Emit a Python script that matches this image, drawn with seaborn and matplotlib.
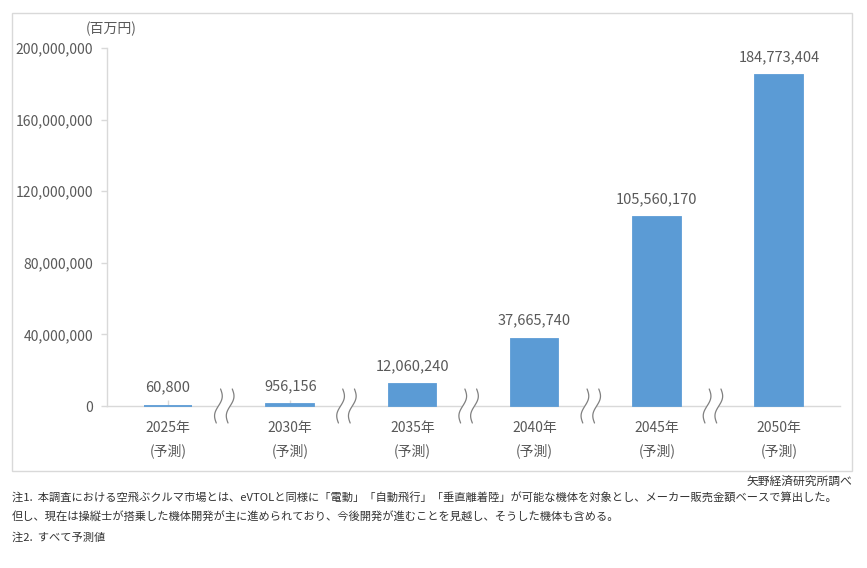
import numpy as np
import pandas as pd
import matplotlib
matplotlib.use("Agg")
import matplotlib.pyplot as plt
import matplotlib.transforms as mtransforms
from matplotlib.patches import Rectangle
import seaborn as sns

years = ["2025年", "2030年", "2035年", "2040年", "2045年", "2050年"]
sub_label = "(予測)"
values = [60800, 956156, 12060240, 37665740, 105560170, 184773404]
yticks = [0, 40000000, 80000000, 120000000, 160000000, 200000000]
unit_label = "(百万円)"
source_text = "矢野経済研究所調べ"
notes = [
    "注1.  本調査における空飛ぶクルマ市場とは、eVTOLと同様に「電動」「自動飛行」「垂直離着陸」が可能な機体を対象とし、メーカー販売金額ベースで算出した。",
    "但し、現在は操縦士が搭乗した機体開発が主に進められており、今後開発が進むことを見越し、そうした機体も含める。",
    "注2.  すべて予測値",
]

sns.set_theme(style="white")
plt.rcParams['font.family'] = ['Noto Sans CJK JP', 'DejaVu Sans']

TXT = "#595959"
BAR = "#5B9BD5"
GRID = "#D9D9D9"

fig = plt.figure(figsize=(8.67, 5.68), dpi=100)
# outer frame
fig.patches.append(Rectangle((12 / 867, 1 - 471 / 568), 840 / 867, 458 / 568,
                             transform=fig.transFigure, fill=False,
                             edgecolor=GRID, linewidth=1.0))

ax = fig.add_axes([107 / 867, 1 - 406 / 568, 733 / 867, 358 / 568])

df = pd.DataFrame({"cat": [f"{y}\n{sub_label}" for y in years], "val": values})
sns.barplot(data=df, x="cat", y="val", color=BAR, width=0.39, saturation=1,
            edgecolor=BAR, linewidth=1.3, ax=ax, zorder=3)

ax.set_ylim(0, 200000000)
ax.set_xlim(-0.5, len(years) - 0.5)
ax.set_yticks(yticks)
ax.set_yticklabels([f"{v:,}" for v in yticks])
ax.set_xlabel("")
ax.set_ylabel("")

for s in ["top", "right"]:
    ax.spines[s].set_visible(False)
for s in ["left", "bottom"]:
    ax.spines[s].set_color(GRID)
    ax.spines[s].set_linewidth(1.0)
    ax.spines[s].set_zorder(1)

ax.tick_params(axis="y", colors=GRID, labelcolor=TXT, labelsize=10,
               length=4, width=1, direction="out", left=True, pad=6)
ax.tick_params(axis="x", colors=GRID, labelcolor=TXT, labelsize=10,
               length=4, width=1, direction="in", bottom=True, pad=11)
for lab in ax.get_xticklabels():
    lab.set_linespacing(1.7)

for c in ax.containers:
    for p in c:
        p.set_clip_on(False)
    ax.bar_label(c, labels=[f"{v:,}" for v in values], padding=8,
                 color=TXT, fontsize=10.5)

# wavy break marks between categories
trans = mtransforms.blended_transform_factory(ax.transData, ax.transAxes)
t = np.linspace(0, 1, 80)
yy = 0.0475 - t * 0.095
for i in range(len(years) - 1):
    xc = i + 0.5 - 0.04
    base = xc + 0.035 * (0.5 - t) + 0.022 * np.sin(t * 2 * np.pi)
    xl = base - 0.048
    xr = base + 0.048
    ax.fill(np.concatenate([xl, xr[::-1]]), np.concatenate([yy, yy[::-1]]),
            transform=trans, color="white", lw=0, clip_on=False, zorder=4)
    for xx in (xl, xr):
        ax.plot(xx, yy, transform=trans, color="#808080", lw=0.9,
                clip_on=False, zorder=5)

fig.text(111 / 867, 1 - 29 / 568, unit_label, ha="center", va="center",
         color=TXT, fontsize=10)
fig.text(852 / 867, 1 - 481 / 568, source_text, ha="right", va="center",
         color="#333333", fontsize=8.5)
for i, n in enumerate(notes):
    fig.text(12 / 867, 1 - (498 + 19.5 * i) / 568, n, ha="left", va="center",
             color="#333333", fontsize=8.1)

fig.savefig("out.png", dpi=100)
